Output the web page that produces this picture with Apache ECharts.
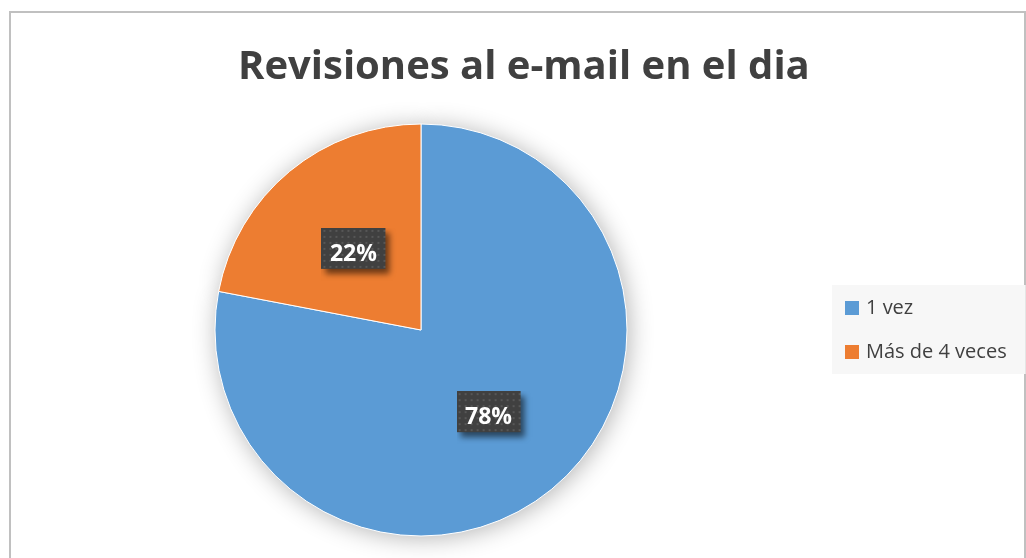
<!DOCTYPE html>
<html>
<head>
<meta charset="utf-8">
<script src="https://cdn.jsdelivr.net/npm/echarts@6/dist/echarts.min.js"></script>
<style>
    html, body { margin: 0; padding: 0; background: #fff; }
    #chart { width: 1026px; height: 558px; }
</style>
</head>
<body>
<div id="chart"></div>
<script>
const categories = ["1 vez", "Más de 4 veces"];
const values = [78, 22];
const colors = ["#5B9BD5", "#ED7D31"];

// dotted dark box (with its drop shadow) behind the percent labels
const BOX_W = 64, BOX_H = 41, SH = 12;
function makeLabelTile () {
    const c = document.createElement("canvas");
    c.width = BOX_W + SH;
    c.height = BOX_H + SH;
    const ctx = c.getContext("2d");
    ctx.save();
    ctx.shadowColor = "rgba(0,0,0,0.55)";
    ctx.shadowBlur = 6;
    ctx.shadowOffsetX = 4;
    ctx.shadowOffsetY = 5;
    ctx.fillStyle = "#404040";
    ctx.fillRect(0, 0, BOX_W, BOX_H);
    ctx.restore();
    ctx.fillStyle = "#575757";
    for (let y = 2; y < BOX_H; y += 6) {
        for (let x = 2; x < BOX_W; x += 6) {
            ctx.fillRect(x, y, 2, 2);
        }
    }
    return c;
}

const tile = makeLabelTile();
const pieData = categories.map((name, i) => ({ name: name, value: values[i] }));

const chart = echarts.init(document.getElementById("chart"));
const option = {
    animation: false,
    color: colors,
    title: {
        text: "Revisiones al e-mail en el dia",
        left: 233,
        top: 43,
        textStyle: {
            fontFamily: "Open Sans",
            fontWeight: "bold",
            fontSize: 40,
            color: "#404040"
        }
    },
    legend: {
        orient: "vertical",
        left: 832,
        top: 285,
        padding: [13, 19, 12, 13],
        backgroundColor: "#f7f7f7",
        itemWidth: 14,
        itemHeight: 14,
        itemGap: 24,
        icon: "rect",
        data: categories.map((name, i) => ({ name: name, itemStyle: { color: colors[i] } })),
        textStyle: {
            fontFamily: "Open Sans",
            fontSize: 20,
            color: "#404040",
            padding: [0, 0, 0, 2]
        }
    },
    graphic: [
        {
            type: "rect",
            shape: { x: 10, y: 12, width: 1015, height: 570 },
            style: { fill: null, stroke: "#c0c0c0", lineWidth: 2 },
            silent: true,
            z: -10
        }
    ],
    series: [
        {
            // shadow layer under the pie
            type: "pie",
            center: [421, 330],
            radius: 206,
            silent: true,
            z: 1,
            label: { show: false },
            labelLine: { show: false },
            itemStyle: {
                color: "#ffffff",
                shadowBlur: 24,
                shadowColor: "rgba(0,0,0,0.3)",
                shadowOffsetX: 2,
                shadowOffsetY: 2
            },
            data: pieData
        },
        {
            type: "pie",
            center: [421, 330],
            radius: 206,
            startAngle: 90,
            clockwise: true,
            z: 2,
            itemStyle: {
                borderColor: "#ffffff",
                borderWidth: 1
            },
            label: {
                show: true,
                position: "inside",
                formatter: "{d}%",
                fontFamily: "Open Sans",
                fontWeight: "bold",
                fontSize: 23,
                color: "#ffffff",
                width: BOX_W,
                height: BOX_H,
                lineHeight: BOX_H,
                align: "center",
                padding: [0, SH, SH, 0],
                offset: [SH / 2, SH / 2],
                backgroundColor: { image: tile }
            },
            labelLine: { show: false },
            emphasis: { disabled: true },
            data: pieData
        }
    ]
};
chart.setOption(option);
</script>
</body>
</html>
